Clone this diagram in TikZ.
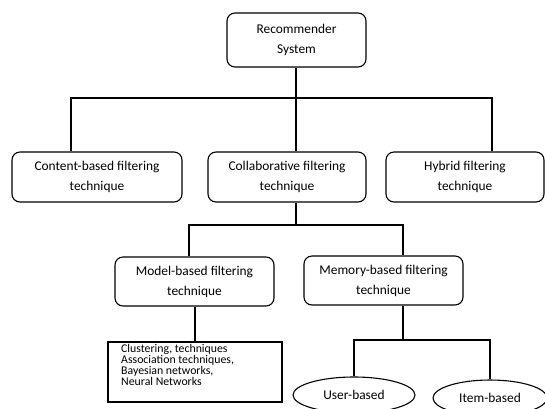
\documentclass[tikz,border=0pt]{standalone}
\usepackage{fontspec}
\setmainfont{Carlito}
\usetikzlibrary{shapes.geometric}
\begin{document}
\begin{tikzpicture}[x=1pt,y=-1pt,
  rbox/.style={draw, line width=1.1pt, rounded corners=8pt, align=center, inner sep=0pt,
    font=\fontsize{13.4}{20}\selectfont},
  sbox/.style={draw, line width=1.1pt, inner sep=0pt},
  ell/.style={draw, line width=1.1pt, ellipse, inner sep=0pt, font=\fontsize{13.4}{16}\selectfont},
  conn/.style={line width=1.1pt}]
\useasboundingbox (0,0) rectangle (545,408);
\clip (0,0) rectangle (545,408);
\node[rbox, minimum width=139pt, minimum height=54pt] (root) at (296.5,40) {Recommender\\System};
\node[rbox, minimum width=170pt, minimum height=50pt] (content) at (97,177) {Content-based filtering\\technique};
\node[rbox, minimum width=158pt, minimum height=50pt] (collab) at (287,177) {Collaborative filtering\\technique};
\node[rbox, minimum width=158pt, minimum height=50pt] (hybrid) at (465,177) {Hybrid filtering\\technique};
\node[rbox, minimum width=159pt, minimum height=49pt] (model) at (194.5,281.5) {Model-based filtering\\technique};
\node[rbox, minimum width=159pt, minimum height=49pt] (memory) at (383.5,280.5) {Memory-based filtering\\technique};
\node[sbox, minimum width=174pt, minimum height=60pt] (algos) at (195,372) {};
\node[anchor=north west, align=left, inner sep=0pt, font=\fontsize{11.8}{11}\selectfont] (algotext) at (121,344.5)
  {Clustering, techniques\\Association techniques,\\Bayesian networks,\\Neural Networks};
\node[ell, minimum width=122pt, minimum height=36pt] (user) at (354,395) {User-based};
\node[ell, minimum width=114pt, minimum height=36pt] (item) at (490,398) {Item-based};

\coordinate (j1) at (296,98);
\coordinate (jl) at (71,98);
\coordinate (jr) at (492,98);
\coordinate (j2) at (296,225);
\coordinate (j2l) at (189,225);
\coordinate (j2r) at (403,225);
\coordinate (j3) at (403,340);
\coordinate (j3l) at (341,340);
\coordinate (j3r) at (490,340);

\draw[conn] (root.south -| j1) -- (j1) -- (j1 |- collab.north);
\draw[conn] (content.north -| jl) -- (jl) -- (jr) -- (jr |- hybrid.north);
\draw[conn] (collab.south -| j2) -- (j2);
\draw[conn] (model.north -| j2l) -- (j2l) -- (j2r) -- (j2r |- memory.north);
\draw[conn] (model.south -| algos.north) -- (algos.north);
\draw[conn] (memory.south -| j3) -- (j3);
\draw[conn] (user.north) -- (user.north |- j3l) -- (j3r) -- (item.north);
\end{tikzpicture}
\end{document}
